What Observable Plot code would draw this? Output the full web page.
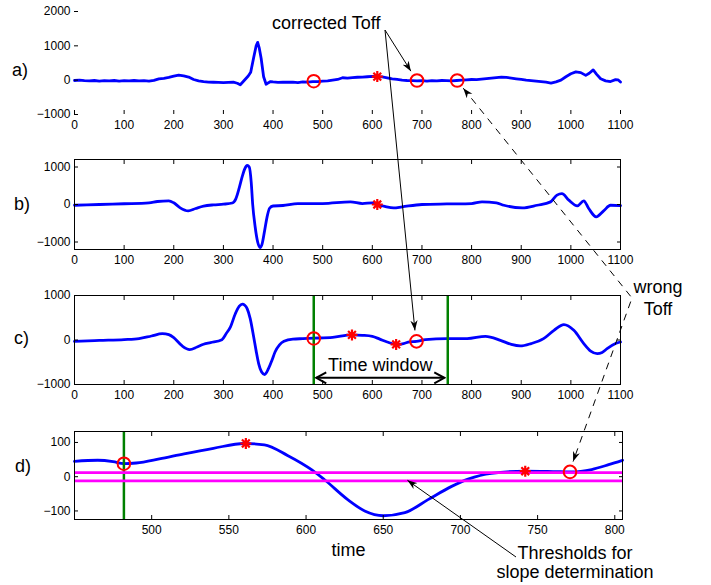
<!DOCTYPE html>
<html>
<head>
<meta charset="utf-8">
<script src="https://cdn.jsdelivr.net/npm/d3@7"></script>
<script src="https://cdn.jsdelivr.net/npm/@observablehq/plot@0.6"></script>
<style>
  body { margin: 0; background: #fff; }
  #fig { position: relative; width: 711px; height: 585px; font-family: Arial, "Liberation Sans", sans-serif; }
</style>
</head>
<body>
<div id="fig"></div>
<script>
// ---- a) raw signal ----
const aT = [0,10,20,30,40,50,60,70,80,90,100,110,120,130,140,150,160,170,180,190,200,210,220,230,240,250,260,270,280,290,300,310,320,328,334,340,345,350,355,361,366,369,372,376,381,386,390,395,400,410,420,430,440,450,460,470,480,490,500,510,520,530,540,550,560,570,580,590,600,610,620,630,640,650,660,670,680,690,700,710,720,730,740,750,760,770,780,790,800,810,820,830,840,850,860,870,880,890,900,910,920,930,940,950,960,970,980,990,1000,1010,1020,1030,1037,1045,1052,1060,1070,1080,1090,1095,1100];
const aV = [-10,0,-15,-20,-10,-25,-15,-20,-10,-25,-15,-20,-10,-20,-15,-25,-5,40,55,80,115,145,125,90,20,-20,-45,-55,-60,-65,-70,-65,-60,-90,-135,-40,40,120,230,660,1000,1100,950,640,100,-120,-80,-40,-50,-65,-55,-60,-55,-70,-50,-60,-40,-45,-25,-20,0,20,70,60,75,85,90,100,110,100,95,70,40,20,0,-10,-15,-20,-15,-25,-15,-20,-10,-15,-20,-10,0,10,20,15,30,45,60,75,90,80,60,40,20,0,-15,-30,-45,-60,-85,-50,0,100,185,240,220,140,200,300,170,40,-20,-40,15,10,-55];

// ---- b) filtered signal ----
const bT = [0,50,100,150,167,190,200,213,229,244,260,280,300,318,325,332,338,343,348,352,356,359,364,369,374,378,383,388,393,400,420,450,500,556,580,600,610,625,643,660,700,750,800,821,850,865,902,932,959,972,982,996,1013,1026,1036,1051,1066,1080,1100];
const bV = [-20,0,20,45,80,97,45,-90,-170,-107,-45,-10,8,40,150,450,750,950,1040,1000,600,0,-600,-1000,-1150,-1050,-700,-330,-100,-40,-27,25,25,70,25,45,0,-50,-90,-63,0,15,25,70,45,-20,-90,-20,70,250,290,115,-37,97,-107,-330,-170,-20,-30];

// ---- c) second filtered signal ----
const cT = [0,50,100,130,155,177,190,200,217,232,247,260,274,297,306,314,324,332,338,343,348,354,361,366,371,377,383,391,398,404,413,422,440,460,482,520,559,580,600,615,630,648,663,675,689,707,750,791,828,858,880,898,920,945,966,986,1006,1026,1040,1053,1063,1073,1090,1100];
const cV = [-30,-10,8,30,90,143,120,53,-134,-215,-157,-95,-58,8,150,291,590,760,805,780,700,480,67,-250,-530,-720,-775,-640,-450,-270,-110,-30,20,30,40,60,115,105,83,20,-45,-100,-80,-40,-30,8,30,30,83,-7,-100,-134,-80,30,217,345,217,-80,-250,-305,-280,-193,-80,-45];

// ---- d) zoom on the time window ----
const dT = [450,465,475,482,490,505,521,540,560,573,588,604,612,627,638,650,664,679,694,705,720,742,760,772,785,796,805];
const dV = [45,48,44,38,40,52,67,83,97,93,62,19,-9,-67,-100,-114,-105,-67,-29,-7,10,16,15,14,21,35,48];

// ticks
const xTicksFull = [0,100,200,300,400,500,600,700,800,900,1000,1100];
const xTicksD = [500,550,600,650,700,750,800];
const yTicksA = [-1000,0,1000,2000];
const yTicksBC = [-1000,0,1000];
const yTicksD = [-100,0,100];

// markers: circles (Toff candidates) and stars (extrema)
const aCircleT = [482,690,771], aCircleV = [-30,-10,-10];
const aStarT = [610], aStarV = [105];
const bStarT = [610], bStarV = [0];
const cCircleT = [482,689], cCircleV = [35,-30];
const cStarT = [559,648], cStarV = [115,-100];
const dCircleT = [482,771], dCircleV = [38,14];
const dStarT = [561,742], dStarV = [97,16];

// time window edges and slope thresholds
const windowEdges = [482,752];
const thresholds = [12,-12];

const FONT = "Arial, 'Liberation Sans', sans-serif";
const blue = "#0000ff", red = "#ff0000", green = "#008000", magenta = "#ff00ff";
const fmt = d3.format("d");
const smooth = "monotone-x";

// MATLAB-like eight-armed star
const star8 = {
  draw(ctx, size) {
    const r = Math.sqrt(size / Math.PI);
    const q = r * Math.SQRT1_2;
    ctx.moveTo(-r, 0); ctx.lineTo(r, 0);
    ctx.moveTo(0, -r); ctx.lineTo(0, r);
    ctx.moveTo(-q, -q); ctx.lineTo(q, q);
    ctx.moveTo(-q, q); ctx.lineTo(q, -q);
  }
};

function series(t, v) { return t.map((x, i) => ({x, y: v[i]})); }

function axes(xTicks, yTicks, boxed) {
  const m = [
    Plot.axisX({ticks: xTicks, tickSize: -4, tickPadding: 10, tickFormat: fmt, label: null, line: !boxed}),
    Plot.axisY({ticks: yTicks, tickSize: -4, tickPadding: 8, tickFormat: fmt, label: null, line: !boxed})
  ];
  if (boxed) {
    m.push(
      Plot.axisX({anchor: "top", ticks: xTicks, tickSize: -4, tickFormat: () => "", label: null}),
      Plot.axisY({anchor: "right", ticks: yTicks, tickSize: -4, tickFormat: () => "", label: null}),
      Plot.frame({stroke: "black"})
    );
  }
  return m;
}

function markers(ct, cv, st, sv) {
  return [
    Plot.dot(series(ct, cv), {x: "x", y: "y", r: 6.3, stroke: red, strokeWidth: 2, fill: "none"}),
    Plot.dot(series(st, sv), {x: "x", y: "y", r: 5.5, symbol: star8, stroke: red, strokeWidth: 2.2})
  ];
}

function panel({height, mt, mb, mr = 91, xDomain, yDomain, marks}) {
  return Plot.plot({
    width: 711, height,
    marginLeft: 74, marginRight: mr, marginTop: mt, marginBottom: mb,
    x: {domain: xDomain}, y: {domain: yDomain},
    style: {fontFamily: FONT, fontSize: "12px", color: "black", background: "transparent", overflow: "visible"},
    marks
  });
}

const chartA = panel({
  height: 140, mt: 11, mb: 26, xDomain: [0, 1100], yDomain: [-1000, 2000],
  marks: [
    Plot.line(series(aT, aV), {x: "x", y: "y", stroke: blue, strokeWidth: 2.8}),
    ...markers(aCircleT, aCircleV, aStarT, aStarV),
    ...axes(xTicksFull, yTicksA, false)
  ]
});

const chartB = panel({
  height: 140, mt: 19, mb: 31, xDomain: [0, 1100], yDomain: [-1200, 1200],
  marks: [
    Plot.line(series(bT, bV), {x: "x", y: "y", stroke: blue, strokeWidth: 2.8, curve: smooth}),
    ...markers([], [], bStarT, bStarV),
    ...axes(xTicksFull, yTicksBC, true)
  ]
});

const chartC = panel({
  height: 140, mt: 15, mb: 36, xDomain: [0, 1100], yDomain: [-1000, 1000],
  marks: [
    Plot.line(series(cT, cV), {x: "x", y: "y", stroke: blue, strokeWidth: 2.8, curve: smooth}),
    Plot.ruleX(windowEdges, {stroke: green, strokeWidth: 2.5}),
    ...markers(cCircleT, cCircleV, cStarT, cStarV),
    ...axes(xTicksFull, yTicksBC, true)
  ]
});

const chartD = panel({
  height: 165, mt: 11, mb: 66, mr: 89, xDomain: [450, 805], yDomain: [-125, 132],
  marks: [
    Plot.line(series(dT, dV), {x: "x", y: "y", stroke: blue, strokeWidth: 2.8, curve: smooth}),
    Plot.ruleX(windowEdges.slice(0, 1), {stroke: green, strokeWidth: 2.5}),
    Plot.ruleY(thresholds, {stroke: magenta, strokeWidth: 2.8}),
    ...markers(dCircleT, dCircleV, dStarT, dStarV),
    ...axes(xTicksD, yTicksD, true),
    Plot.text(["time"], {frameAnchor: "bottom", dy: 31, fontSize: 18, lineAnchor: "middle"})
  ]
});

const fig = document.getElementById("fig");
const tops = [0, 140, 280, 420];
[chartA, chartB, chartC, chartD].forEach((ch, k) => {
  ch.style.position = "absolute";
  ch.style.left = "0px";
  ch.style.top = tops[k] + "px";
  fig.append(ch);
});

// pixel position of a data point in a given panel
function pos(ch, top, x, y) {
  return [ch.scale("x").apply(x), top + ch.scale("y").apply(y)];
}
// point just outside a circle marker, on the side facing `from`
function nearCircle(c, from, gap) {
  const dx = from[0] - c[0], dy = from[1] - c[1], L = Math.hypot(dx, dy);
  return [c[0] + dx / L * gap, c[1] + dy / L * gap];
}

const svg = d3.select(fig).append("svg")
  .attr("width", 711).attr("height", 585)
  .style("position", "absolute").style("left", 0).style("top", 0)
  .style("overflow", "visible").style("pointer-events", "none")
  .style("font-family", FONT);

const defs = svg.append("defs");
defs.append("marker").attr("id", "head")
  .attr("viewBox", "-10 -4 11 8").attr("refX", 0).attr("refY", 0)
  .attr("markerWidth", 11).attr("markerHeight", 8)
  .attr("markerUnits", "userSpaceOnUse").attr("orient", "auto-start-reverse")
  .append("path").attr("d", "M0,0 L-10,-3.6 L-7,0 L-10,3.6 Z").attr("fill", "black");
defs.append("marker").attr("id", "chev")
  .attr("viewBox", "-12 -7 14 14").attr("refX", 0).attr("refY", 0)
  .attr("markerWidth", 14).attr("markerHeight", 14)
  .attr("markerUnits", "userSpaceOnUse").attr("orient", "auto-start-reverse")
  .append("path").attr("d", "M-10,-5.5 L0,0 L-10,5.5").attr("fill", "none")
  .attr("stroke", "black").attr("stroke-width", 2);

const line = d3.line();
const GAP = 10.5;

// corrected Toff: two solid arrows
const toffOrigin = [385, 30];
const aC690 = pos(chartA, tops[0], aCircleT[1], aCircleV[1]);
const cC689 = pos(chartC, tops[2], cCircleT[1], cCircleV[1]);
for (const c of [aC690, cC689]) {
  svg.append("path").attr("d", line([toffOrigin, nearCircle(c, toffOrigin, GAP)]))
    .attr("stroke", "black").attr("stroke-width", 1).attr("fill", "none")
    .attr("marker-end", "url(#head)");
}
svg.append("text").attr("x", 272).attr("y", 29).attr("font-size", 18).text("corrected Toff");

// wrong Toff: dashed polyline with arrows at both ends
const kink = [632, 298];
const aC771 = pos(chartA, tops[0], aCircleT[2], aCircleV[2]);
const dC771 = pos(chartD, tops[3], dCircleT[1], dCircleV[1]);
svg.append("path")
  .attr("d", line([nearCircle(aC771, kink, GAP), kink, nearCircle(dC771, kink, GAP)]))
  .attr("stroke", "black").attr("stroke-width", 1).attr("fill", "none")
  .attr("stroke-dasharray", "7,6")
  .attr("marker-start", "url(#head)").attr("marker-end", "url(#head)");
svg.append("text").attr("x", 658).attr("y", 293).attr("font-size", 18).attr("text-anchor", "middle").text("wrong");
svg.append("text").attr("x", 658).attr("y", 315).attr("font-size", 18).attr("text-anchor", "middle").text("Toff");

// time window double arrow in panel c
const wl = pos(chartC, tops[2], windowEdges[0], -860);
const wr = pos(chartC, tops[2], windowEdges[1], -860);
svg.append("path").attr("d", line([[wl[0] + 3, wl[1]], [wr[0] - 3, wr[1]]]))
  .attr("stroke", "black").attr("stroke-width", 2).attr("fill", "none")
  .attr("marker-start", "url(#chev)").attr("marker-end", "url(#chev)");
svg.append("text").attr("x", (wl[0] + wr[0]) / 2).attr("y", 371).attr("font-size", 18)
  .attr("text-anchor", "middle").text("Time window");

// slope thresholds arrow in panel d
const thrOrigin = [516, 557];
const thrTip = pos(chartD, tops[3], 666, thresholds[1]);
svg.append("path").attr("d", line([thrOrigin, thrTip]))
  .attr("stroke", "black").attr("stroke-width", 1).attr("fill", "none")
  .attr("marker-end", "url(#head)");
svg.append("text").attr("x", 575).attr("y", 559).attr("font-size", 18).attr("text-anchor", "middle").text("Thresholds for");
svg.append("text").attr("x", 575).attr("y", 578).attr("font-size", 18).attr("text-anchor", "middle").text("slope determination");

// panel letters
const letters = [["a)", 12, 76], ["b)", 14, 210], ["c)", 14, 344], ["d)", 15, 472]];
for (const [s, x, y] of letters) {
  svg.append("text").attr("x", x).attr("y", y).attr("font-size", 18).text(s);
}
</script>
</body>
</html>
